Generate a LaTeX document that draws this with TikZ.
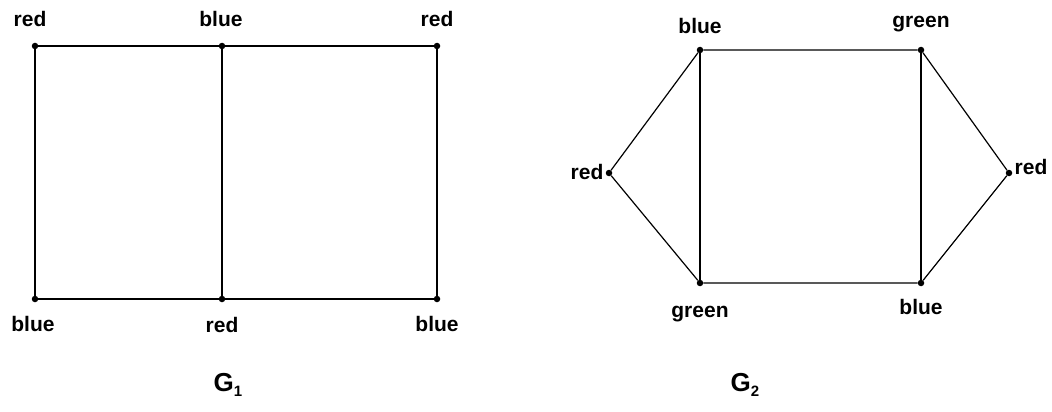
\documentclass[tikz,border=0pt]{standalone}
\usepackage{fontspec}
\setmainfont{Liberation Sans}
\newcommand{\gsub}[1]{\raisebox{-0.35ex}{\fontsize{15}{16}\selectfont\bfseries #1}}
\begin{document}
\begin{tikzpicture}[x=1pt,y=-1pt,
  vtx/.style={circle,fill=black,inner sep=0pt,minimum size=6.5pt},
  lbl/.style={font=\fontsize{21}{24}\selectfont\bfseries,inner sep=0pt},
  edge/.style={line width=1.2pt},
  gname/.style={font=\fontsize{26}{28}\selectfont\bfseries,inner sep=0pt}]
\useasboundingbox (0,0) rectangle (1052,412);
% G1
\node[vtx] (a1) at (35,46) {};
\node[vtx] (a2) at (222,46) {};
\node[vtx] (a3) at (437,46) {};
\node[vtx] (b1) at (35,299) {};
\node[vtx] (b2) at (222,299) {};
\node[vtx] (b3) at (437,299) {};
\draw[edge] (a1) -- (a2) -- (a3) -- (b3) -- (b2) -- (b1) -- (a1);
\draw[edge] (a2) -- (b2);
\node[lbl] (la1) at (30,19) {red};
\node[lbl] (la2) at (221,19) {blue};
\node[lbl] (la3) at (437,19) {red};
\node[lbl] (lb1) at (33,324) {blue};
\node[lbl] (lb2) at (222,325) {red};
\node[lbl] (lb3) at (437,324) {blue};
\node[gname] (g1) at (228,385) {G\gsub{1}};
% G2
\node[vtx] (c1) at (700,50) {};
\node[vtx] (c2) at (921,50) {};
\node[vtx] (cl) at (609,173) {};
\node[vtx] (cr) at (1009,173) {};
\node[vtx] (d1) at (700,283) {};
\node[vtx] (d2) at (921,283) {};
\draw[edge] (c1) -- (c2) -- (cr) -- (d2) -- (d1) -- (cl) -- (c1);
\draw[edge] (c1) -- (d1);
\draw[edge] (c2) -- (d2);
\node[lbl] (lc1) at (700,26) {blue};
\node[lbl] (lc2) at (921,24) {green};
\node[lbl] (lcl) at (587,172) {red};
\node[lbl] (lcr) at (1031,167) {red};
\node[lbl] (ld1) at (700,314) {green};
\node[lbl] (ld2) at (921,307) {blue};
\node[gname] (g2) at (745,385) {G\gsub{2}};
\end{tikzpicture}
\end{document}
